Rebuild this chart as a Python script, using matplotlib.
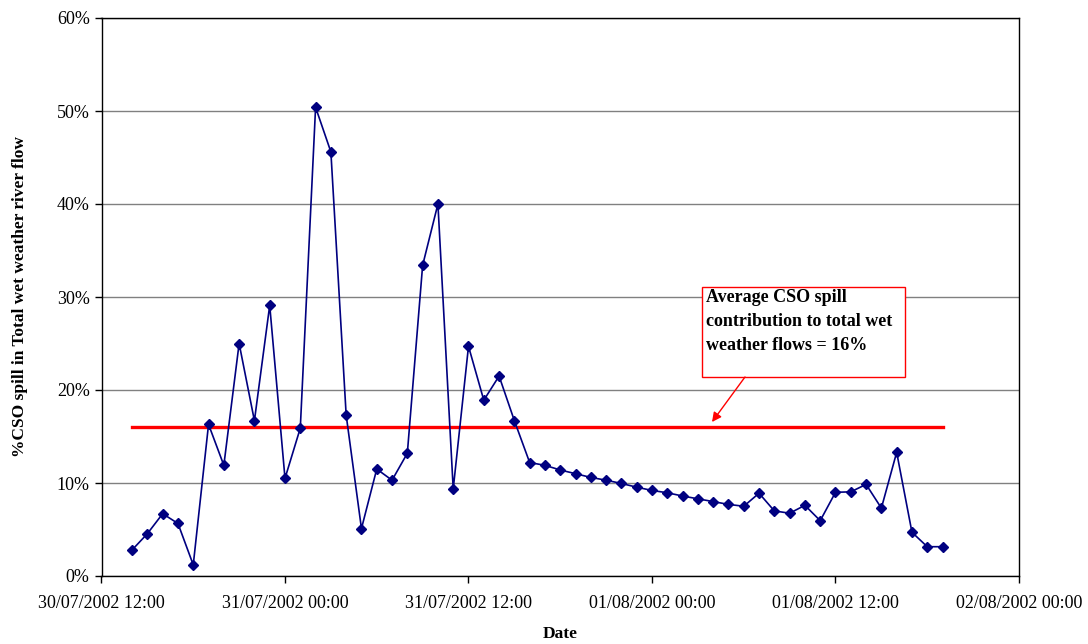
import matplotlib
matplotlib.use("Agg")
import matplotlib.pyplot as plt
import matplotlib.dates as mdates
from matplotlib.patches import Rectangle
import pandas as pd

# ---- data ----
start_time = "2002-07-30 14:00"
cso_pct = [2.8, 4.55, 6.7, 5.65, 1.2, 16.3, 11.9, 25.0, 16.7, 29.1,
           10.5, 15.9, 50.4, 45.6, 17.3, 5.1, 11.5, 10.3, 13.2, 33.4,
           40.0, 9.35, 24.7, 18.9, 21.5, 16.7, 12.2, 11.9, 11.4, 11.0,
           10.6, 10.3, 9.95, 9.55, 9.2, 8.95, 8.6, 8.3, 8.0, 7.7,
           7.5, 8.9, 7.0, 6.75, 7.6, 5.95, 9.0, 9.05, 9.85, 7.3,
           13.3, 4.7, 3.15, 3.15]
average_pct = 16.0
x_start = "2002-07-30 12:00"
x_end = "2002-08-02 00:00"
y_ticks = [0, 10, 20, 30, 40, 50, 60]
y_tick_labels = ["0%", "10%", "20%", "30%", "40%", "50%", "60%"]
annotation_text = "Average CSO spill\ncontribution to total wet\nweather flows = 16%"
y_label = "%CSO spill in Total wet weather river flow"
x_label = "Date"

times = pd.date_range(start_time, periods=len(cso_pct), freq="h")

plt.rcParams["font.family"] = ["Liberation Serif", "DejaVu Serif"]

fig = plt.figure(figsize=(10.88, 6.44), dpi=100)
ax = fig.add_axes([101.5 / 1088, 1 - 576 / 644, 917.5 / 1088, 558 / 644])

ax.set_xlim(pd.Timestamp(x_start), pd.Timestamp(x_end))
ax.set_ylim(0, 60)

ax.yaxis.grid(True, color="#808080", linewidth=1.0)
ax.set_axisbelow(True)

ax.plot([times[0], times[-1]], [average_pct, average_pct], color="#ff0000",
        linewidth=2.4, zorder=2)
ax.plot(times, cso_pct, color="#000080", linewidth=1.2, marker="D",
        markersize=5.5, markerfacecolor="#000080", markeredgecolor="#000080",
        zorder=3)

ax.xaxis.set_major_locator(mdates.HourLocator(byhour=[0, 12]))
ax.xaxis.set_major_formatter(mdates.DateFormatter("%d/%m/%Y %H:%M"))
ax.set_yticks(y_ticks)
ax.set_yticklabels(y_tick_labels)
ax.tick_params(axis="both", direction="out", length=5, width=1,
               labelsize=13, colors="black")
ax.tick_params(axis="x", pad=9)
for s in ax.spines.values():
    s.set_color("black")
    s.set_linewidth(1.0)

ax.set_ylabel(y_label, fontsize=12.5, fontweight="bold", labelpad=21)
ax.set_xlabel(x_label, fontsize=12.5, fontweight="bold", labelpad=10)

# annotation box
bx0, bx1 = (702 - 101.5) / 917.5, (905 - 101.5) / 917.5
by0, by1 = (576 - 377) / 558, (576 - 287) / 558
ax.add_patch(Rectangle((bx0, by0), bx1 - bx0, by1 - by0, transform=ax.transAxes,
                       facecolor="white", edgecolor="#ff0000", linewidth=1.0,
                       zorder=4))
ax.text((706 - 101.5) / 917.5, (576 - 289) / 558, annotation_text,
        transform=ax.transAxes, ha="left", va="top", fontsize=13,
        fontweight="bold", linespacing=1.55, zorder=5)
ax.annotate("", xy=((712 - 101.5) / 917.5, (576 - 422) / 558),
            xytext=((745 - 101.5) / 917.5, by0),
            xycoords="axes fraction", textcoords="axes fraction",
            arrowprops=dict(arrowstyle="-|>", color="#ff0000", lw=1.0,
                            mutation_scale=14, shrinkA=0, shrinkB=0),
            zorder=5)

fig.savefig("out.png", dpi=100)
